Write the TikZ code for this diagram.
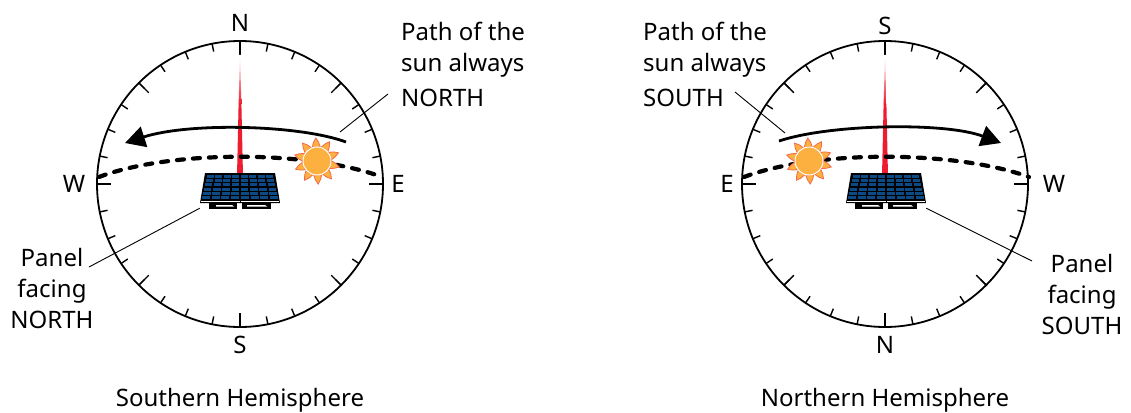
\documentclass[tikz,border=0pt]{standalone}
\usepackage{fontspec}
\setmainfont{Noto Sans}
\usetikzlibrary{arrows.meta}
\definecolor{pNeedle}{HTML}{ED1C2E}
\definecolor{pSunFill}{HTML}{FBB040}
\definecolor{pSunRay}{HTML}{F26A4B}
\definecolor{pCell}{HTML}{0B4A85}
\tikzset{
  dialbox/.style={draw, circle, line width=1.8pt, minimum size=286pt, inner sep=0pt},
  mainlabel/.style={font=\fontsize{24}{31}\selectfont, inner sep=0pt},
  pathlabel/.style={mainlabel, align=left, anchor=north west},
  leader/.style={line width=0.9pt},
  sunpath/.style={line width=2.8pt, -{Triangle[length=20pt,width=21pt]}},
  daypath/.style={line width=4.2pt, line cap=round, dash pattern=on 7pt off 9pt},
  panelbox/.style={minimum width=80pt, minimum height=36pt, inner sep=0pt}
}
\newcommand{\pDial}[1]{%
  \foreach \a in {0,11.25,...,349} {\draw[line width=1.4pt] ([shift={(\a:143)}]#1.center) -- ([shift={(\a:135)}]#1.center);}
  \foreach \a in {0,45,...,315} {\draw[line width=1.4pt] ([shift={(\a:143)}]#1.center) -- ([shift={(\a:129)}]#1.center);}
  \shade[top color=white, bottom color=pNeedle] ([shift={(0,-130)}]#1.center) -- ([shift={(1.4,-80)}]#1.center) -- ([shift={(-1.4,-80)}]#1.center) -- cycle;
  \fill[pNeedle] ([shift={(-1.4,-80.3)}]#1.center) -- ([shift={(1.4,-80.3)}]#1.center) -- ([shift={(3,-8)}]#1.center) -- ([shift={(-3,-8)}]#1.center) -- cycle;
}
\newcommand{\pPanel}[1]{%
  \begin{scope}[shift={(#1.center)}]
  \fill[black] (-31,12) rectangle (-3,19);
  \fill[black] (2,12) rectangle (31,19);
  \fill[white] (-24,15) -- (-8,15) -- (-6,16.5) -- (-24,16.5) -- cycle;
  \fill[white] (7,15) -- (25,15) -- (27,16.5) -- (7,16.5) -- cycle;
  \fill[black] (-35,-17) -- (35,-17) -- (40,13) -- (-40,13) -- cycle;
  \draw[white, line width=0.8pt] (-39,11.2) -- (39,11.2);
  \foreach \r in {0,...,5} {\foreach \c in {-4,...,3} {
    \pgfmathsetmacro{\pT}{-15.5+4.35*\r}
    \pgfmathsetmacro{\pS}{1+0.024*\r*6/5}
    \fill[pCell] ({(\c*8.5+0.8)*\pS},\pT) rectangle ({(\c*8.5+7.7)*\pS},\pT+3.1);
  }}
  \draw[black, line width=0.9pt] (0,-17) -- (0,12);
  \end{scope}
}
\newcommand{\pSun}[1]{%
  \begin{scope}[shift={(#1)}]
  \foreach \a in {15,51,...,340} {\filldraw[fill=pSunFill, draw=pSunRay, line width=0.8pt] (\a-16:14.5) to[bend left=12] (\a:23) to[bend left=12] (\a+16:14.5) -- cycle;}
  \filldraw[fill=pSunFill, draw=white, line width=1pt] (0,0) circle (14);
  \end{scope}
}
\begin{document}
\begin{tikzpicture}[x=1pt,y=-1pt]
\useasboundingbox (0,0) rectangle (1131,412);
% southern hemisphere
\node[dialbox] (dialS) at (240,184) {};
\pDial{dialS}
\node[mainlabel] (northS) at (240,23) {N};
\node[mainlabel] (southS) at (240,345) {S};
\node[mainlabel] (westS) at (74,184) {W};
\node[mainlabel] (eastS) at (398,184) {E};
\draw[daypath] (99,177) .. controls (170,150) and (310,150) .. (382,177);
\node[panelbox] (panelS) at (240,190) {};
\pPanel{panelS}
\coordinate (sunS) at (317,161);
\pSun{sunS}
\draw[sunpath] (346,142) .. controls (300,125) and (190,122) .. (125,143);
\node[pathlabel] (pathS) at (401,22) {Path of the\\sun always\\[4pt]NORTH};
\coordinate (pathEndS) at (340,132);
\coordinate (pathStartS) at (388,94);
\draw[leader] (pathStartS) -- (pathEndS);
\node[mainlabel, align=center] (faceS) at (52,288) {Panel\\facing\\NORTH};
\coordinate (faceStartS) at (89,267);
\draw[leader] (faceStartS) -- (panelS.south west);
\node[mainlabel] (titleS) at (240,400.5) {Southern Hemisphere};
% northern hemisphere
\node[dialbox] (dialN) at (885,184) {};
\pDial{dialN}
\node[mainlabel] (southN) at (885,26) {S};
\node[mainlabel] (northN) at (885,345) {N};
\node[mainlabel] (eastN) at (727,184) {E};
\node[mainlabel] (westN) at (1054,184) {W};
\draw[daypath] (744,177) .. controls (815,150) and (955,150) .. (1029,177);
\node[panelbox] (panelN) at (886,190) {};
\pPanel{panelN}
\coordinate (sunN) at (809,161);
\pSun{sunN}
\draw[sunpath] (779,141) .. controls (830,124) and (945,122) .. (1001,143);
\node[pathlabel] (pathN) at (643,22) {Path of the\\sun always\\[4pt]SOUTH};
\coordinate (pathEndN) at (785,133);
\coordinate (pathStartN) at (735,92);
\draw[leader] (pathStartN) -- (pathEndN);
\node[mainlabel, align=center] (faceN) at (1082,294) {Panel\\facing\\SOUTH};
\coordinate (faceStartN) at (1032,261);
\draw[leader] (faceStartN) -- (panelN.south east);
\node[mainlabel] (titleN) at (885,400.5) {Northern Hemisphere};
\end{tikzpicture}
\end{document}
